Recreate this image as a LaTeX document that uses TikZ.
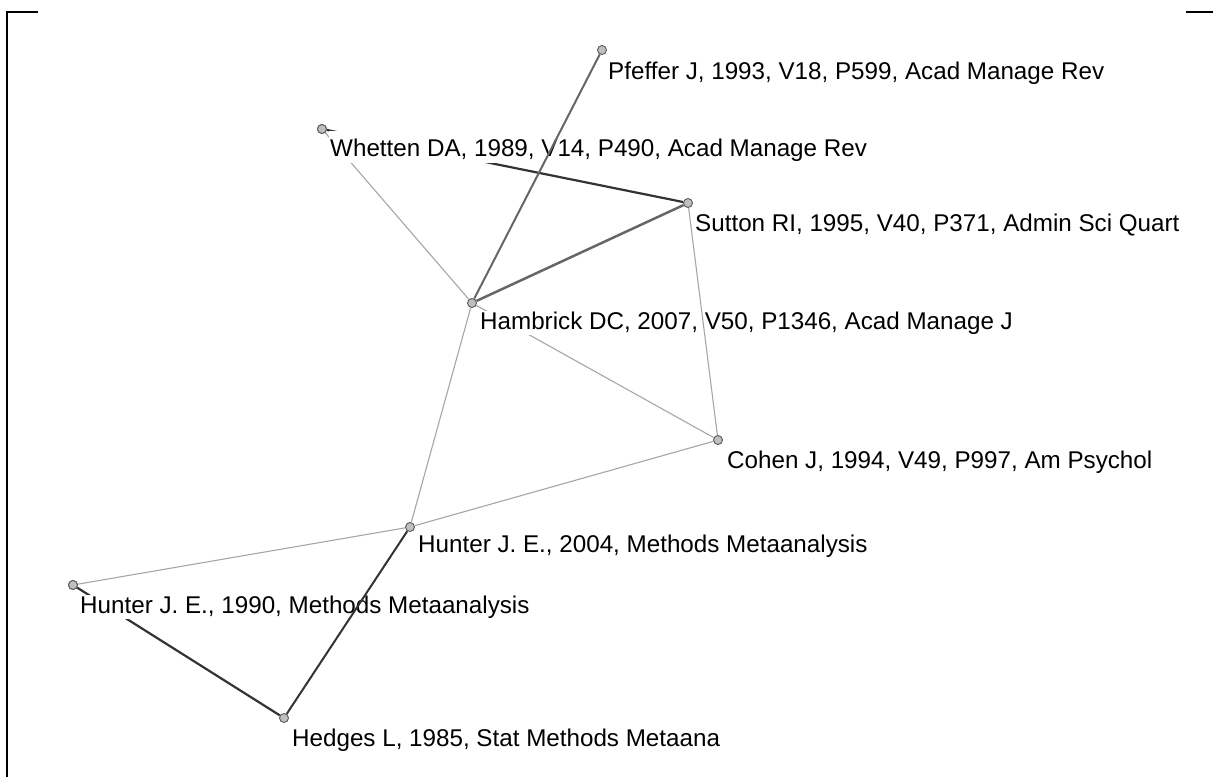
\documentclass[tikz,border=0pt]{standalone}
\usepackage{fontspec}
\setmainfont{Liberation Sans}
\begin{document}
\begin{tikzpicture}[x=1pt,y=-1pt,
  vert/.style={circle,draw=black!65,fill=black!25,line width=0.9pt,minimum size=9pt,inner sep=0pt},
  lab/.style={anchor=west,inner sep=1pt,fill=white,font=\fontsize{24.2}{28}\selectfont},
  weak/.style={draw=black!35,line width=1.1pt},
  mid/.style={draw=black!60,line width=2pt},
  strong/.style={draw=black!80,line width=2.2pt},
  frame/.style={draw=black,line width=2.5pt}]
\useasboundingbox (0,0) rectangle (1213,777);
\draw[frame] (38,12) -- (7,12) -- (7,777);
\draw[frame] (1186,12) -- (1213,12);
% vertices
\node[vert] (pf) at (602,50) {};
\node[vert] (wh) at (322,129) {};
\node[vert] (su) at (688,203) {};
\node[vert] (hb) at (472,303) {};
\node[vert] (co) at (718,440) {};
\node[vert] (h04) at (410,527) {};
\node[vert] (h90) at (73,585) {};
\node[vert] (hd) at (284,718) {};
% edges hidden under labels
\draw[strong] (wh) -- (su);
\draw[weak] (wh) -- (hb);
\draw[weak] (hb) -- (co);
\draw[strong] (h90) -- (hd);
% labels
\node[lab] (lpf) at (607,73) {Pfeffer J, 1993, V18, P599, Acad Manage Rev};
\node[lab,anchor=base west,text height=25pt] (lwh) at (329,156.5) {Whetten DA, 1989, V14, P490, Acad Manage Rev};
\node[lab] (lsu) at (694,225) {Sutton RI, 1995, V40, P371, Admin Sci Quart};
\node[lab] (lhb) at (479,323) {Hambrick DC, 2007, V50, P1346, Acad Manage J};
\node[lab] (lco) at (726,462) {Cohen J, 1994, V49, P997, Am Psychol};
\node[lab] (lh04) at (417,546) {Hunter J. E., 2004, Methods Metaanalysis};
\node[lab] (lh90) at (79,607) {Hunter J. E., 1990, Methods Metaanalysis};
\node[lab] (lhd) at (291,740) {Hedges L, 1985, Stat Methods Metaana};
% vertices over hidden edges
\node[vert] at (wh) {};
\node[vert] at (h90) {};
% edges over labels
\draw[mid] (pf) -- (hb);
\draw[mid,line width=2.5pt] (su) -- (hb);
\draw[weak] (su) -- (co);
\draw[weak] (hb) -- (h04);
\draw[weak] (co) -- (h04);
\draw[weak] (h04) -- (h90);
\draw[strong,line width=2pt] (h04) -- (hd);
\end{tikzpicture}
\end{document}
